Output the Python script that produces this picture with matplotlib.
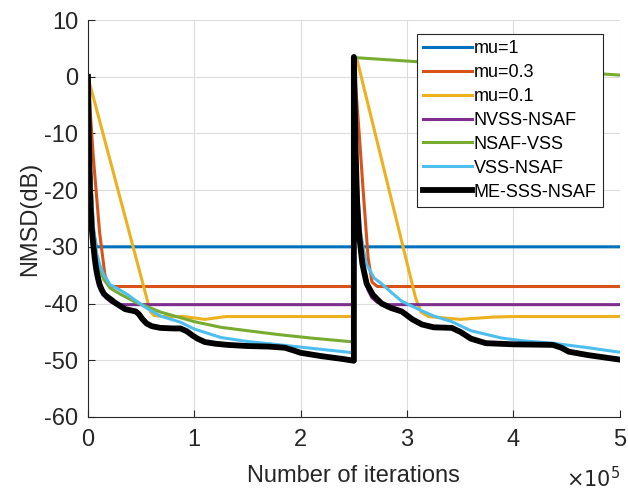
import matplotlib
matplotlib.use("Agg")
import matplotlib.pyplot as plt

plt.rcParams['font.family'] = ['Liberation Sans', 'DejaVu Sans']

# x in units of 1e5 iterations
labels = ["mu=1", "mu=0.3", "mu=0.1", "NVSS-NSAF", "NSAF-VSS", "VSS-NSAF", "ME-SSS-NSAF"]
colors = ["#0072BD", "#D95319", "#EDB120", "#7E2F8E", "#77AC30", "#4DBEEE", "#000000"]

mu1_x = [0, 0.02, 0.05, 0.08, 2.5, 2.5, 2.52, 2.55, 2.58, 5.0]
mu1_y = [0, -15, -27, -30, -30, 3, -15, -27, -30, -30]

mu03_x = [0, 0.05, 0.11, 0.16, 0.2, 2.5, 2.5, 2.51, 2.55, 2.587, 2.634, 2.67, 2.72, 5.0]
mu03_y = [0, -14, -27.5, -35, -37, -37, 3, 0, -10, -20, -32, -36.2, -37, -37]

mu01_x = [0, 0.586, 0.62, 0.7, 0.9, 1.1, 1.3, 2.5, 2.5, 2.53, 3.08, 3.13, 3.2, 3.5, 3.8, 4.0, 5.0]
mu01_y = [0, -41.4, -42.1, -42.3, -42.3, -42.8, -42.3, -42.3, 3, 3, -39, -41.5, -42.3, -42.8, -42.4, -42.3, -42.3]

nvss_x = [0, 0.02, 0.05, 0.08, 0.1, 0.13, 0.17, 0.22, 0.3, 2.5,
          2.5, 2.52, 2.55, 2.58, 2.6, 2.63, 2.67, 2.72, 2.8, 5.0]
nvss_y = [0, -15, -27, -32, -35, -37.5, -39, -39.8, -40.2, -40.2,
          3, -15, -27, -32, -35, -37.5, -39, -39.8, -40.2, -40.2]

nsafvss_x = [0, 0.02, 0.05, 0.08, 0.11, 0.15, 0.21, 0.3, 0.37, 0.45, 0.55, 0.68, 0.87, 1.0,
             1.25, 1.5, 1.8, 2.1, 2.45, 2.5, 2.5, 5.0]
nsafvss_y = [0, -15, -27, -31.5, -34, -35.8, -37.3, -38.3, -39, -39.8, -40.5, -41.5, -42.5, -43.2,
             -44.2, -44.8, -45.5, -46.1, -46.7, -46.8, 3.4, 0.3]

vss_x = [0, 0.02, 0.05, 0.08, 0.11, 0.15, 0.21, 0.3, 0.37, 0.45, 0.55, 0.68, 0.87, 1.0, 1.25,
         1.5, 1.81, 2.1, 2.45, 2.5,
         2.5, 2.52, 2.56, 2.6, 2.62, 2.69, 2.76, 2.85, 2.95, 3.05, 3.14, 3.25, 3.42, 3.6, 3.89,
         4.1, 4.37, 4.7, 5.0]
vss_y = [0, -15, -26, -31, -33.1, -35, -36.7, -37.6, -38.4, -39.5, -40.8, -42.2, -43.3, -44.5, -46.0,
         -46.7, -47.3, -47.9, -48.6, -48.7,
         3, -15, -27, -31.5, -33.1, -35.5, -36.5, -38, -39.6, -40.5, -41.3, -42.2, -43.2, -44.8, -46.1,
         -46.6, -47, -47.8, -48.6]

me_x = [0, 0.01, 0.02, 0.035, 0.05, 0.065, 0.08, 0.095, 0.11, 0.13, 0.15, 0.18, 0.21, 0.25, 0.30,
        0.35, 0.40, 0.45, 0.48, 0.51, 0.55, 0.60, 0.68, 0.80, 0.87, 0.93, 0.98, 1.03, 1.10, 1.2,
        1.31, 1.5, 1.7, 1.85, 1.92, 2.0, 2.2, 2.4, 2.5,
        2.5, 2.515, 2.53, 2.55, 2.58, 2.62, 2.68, 2.76, 2.85, 2.95, 3.05, 3.14, 3.25, 3.42, 3.5,
        3.6, 3.74, 4.0, 4.37, 4.45, 4.52, 4.7, 5.0]
me_y = [0, -12, -21, -26.5, -29.6, -32.2, -34.2, -35.6, -36.7, -37.6, -38.3, -38.8, -39.2, -39.8, -40.4,
        -41.0, -41.2, -41.4, -41.9, -42.7, -43.5, -44.0, -44.3, -44.4, -44.4, -44.9, -45.6, -46.2, -46.8, -47.1,
        -47.3, -47.5, -47.6, -47.8, -48.2, -48.7, -49.3, -49.8, -50.1,
        3.5, -12, -22, -28, -33, -36.5, -38.5, -40.0, -40.8, -41.4, -42.8, -43.7, -44.2, -44.3, -45.0,
        -46.2, -47.0, -47.2, -47.3, -47.8, -48.5, -49.1, -49.9]

series = [(mu1_x, mu1_y), (mu03_x, mu03_y), (mu01_x, mu01_y), (nvss_x, nvss_y),
          (nsafvss_x, nsafvss_y), (vss_x, vss_y), (me_x, me_y)]

xticks = [0, 1, 2, 3, 4, 5]
yticks = [-60, -50, -40, -30, -20, -10, 0, 10]

fig = plt.figure(figsize=(6.28, 4.91), dpi=100)
ax = fig.add_axes([0.140, 0.151, 0.847, 0.808])

for (xs, ys), c, lab in zip(series, colors, labels):
    lw = 4.2 if c == "#000000" else 2.2
    ax.plot(xs, ys, color=c, lw=lw, label=lab)

ax.set_xlim(0, 5)
ax.set_ylim(-60, 10)
ax.set_xticks(xticks)
ax.set_yticks(yticks)
ax.set_xticklabels([str(t) for t in xticks])
ax.set_yticklabels([str(t) for t in yticks])
ax.grid(True, color="#dcdcdc", lw=0.8)
ax.set_axisbelow(True)
for s in ["top", "right"]:
    ax.spines[s].set_visible(False)
for s in ["left", "bottom"]:
    ax.spines[s].set_color("#262626")
    ax.spines[s].set_linewidth(0.8)
ax.tick_params(direction="in", length=5, width=0.8, colors="#262626", labelsize=17,
               labelcolor="#262626")
ax.tick_params(axis="x", pad=9)
ax.tick_params(axis="y", pad=7)
ax.set_xlabel("Number of iterations", fontsize=17, color="#262626", labelpad=10)
ax.set_ylabel("NMSD(dB)", fontsize=17, color="#262626", labelpad=2)

fig.text(0.944, 0.008, r"$\times10^5$", fontsize=15, color="#262626", ha="center", va="baseline")

leg = ax.legend(loc="upper right", bbox_to_anchor=(0.968, 0.965), fontsize=13, handlelength=2.7,
                handletextpad=0.1, labelspacing=0.38, borderpad=0.35, borderaxespad=0.0,
                fancybox=False, framealpha=1, edgecolor="#262626")
leg.get_frame().set_linewidth(0.8)

fig.savefig("out.png", dpi=100)
